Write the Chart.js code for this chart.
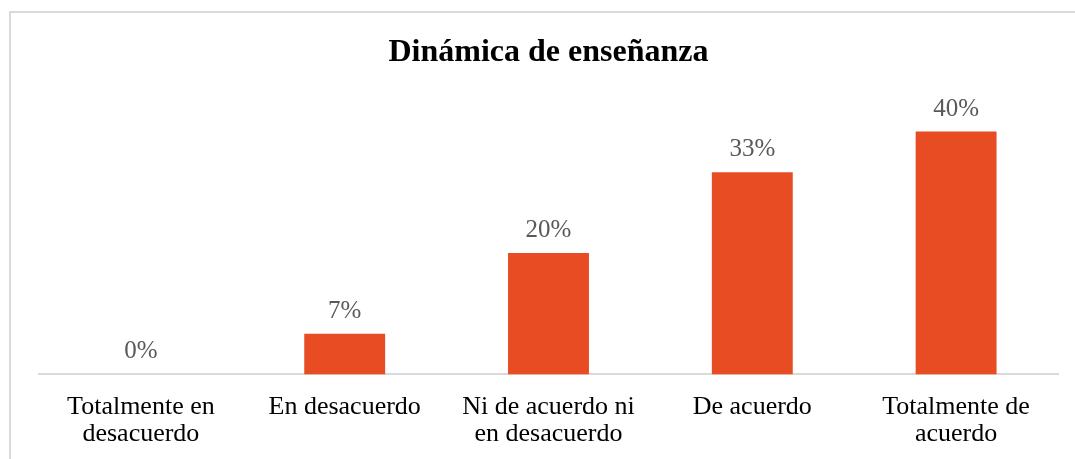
<!DOCTYPE html>
<html>
<head>
<meta charset="utf-8">
<script src="https://cdn.jsdelivr.net/npm/chart.js@4"></script>
<style>
    html, body { margin: 0; padding: 0; background: #fff; overflow: hidden; }
    #marco { position: absolute; left: 9px; top: 11px; width: 1100px; height: 500px; border: 2px solid #d9d9d9; }
    #caja { position: absolute; left: 0; top: 0; width: 1075px; height: 478px; }
</style>
</head>
<body>
<div id="marco"></div>
<div id="caja"><canvas id="dinamica"></canvas></div>
<script>
const categorias = [
    ['Totalmente en', 'desacuerdo'],
    'En desacuerdo',
    ['Ni de acuerdo ni', 'en desacuerdo'],
    'De acuerdo',
    ['Totalmente de', 'acuerdo']
];
const porcentajes = [0, 0.067, 0.2, 0.333, 0.4];

// etiquetas encima de cada barra
const etiquetasBarras = {
    id: 'etiquetasBarras',
    afterDatasetsDraw(chart) {
        const ctx = chart.ctx;
        const meta = chart.getDatasetMeta(0);
        ctx.save();
        ctx.font = '25px "Liberation Serif"';
        ctx.fillStyle = '#595959';
        ctx.textAlign = 'center';
        ctx.textBaseline = 'alphabetic';
        meta.data.forEach((barra, i) => {
            const texto = Math.round(porcentajes[i] * 100) + '%';
            ctx.fillText(texto, barra.x, barra.y - 16);
        });
        ctx.restore();
    }
};

const data = {
    labels: categorias,
    datasets: [{
        label: 'Dinámica de enseñanza',
        backgroundColor: 'rgb(232, 76, 34)',
        borderColor: 'rgb(232, 76, 34)',
        data: porcentajes,
        barPercentage: 0.397,
        categoryPercentage: 1
    }]
};

const config = {
    type: 'bar',
    data: data,
    options: {
        responsive: true,
        maintainAspectRatio: false,
        animation: false,
        layout: {
            padding: { left: 39, right: 17, top: 0, bottom: 11 }
        },
        plugins: {
            legend: { display: false },
            tooltip: { enabled: false },
            title: {
                display: true,
                text: 'Dinámica de enseñanza',
                color: '#000',
                font: { family: 'Liberation Serif', size: 32, weight: 'bold', lineHeight: 1.12 },
                padding: { top: 35, bottom: 0 }
            }
        },
        scales: {
            x: {
                grid: { display: false, drawTicks: false },
                border: { display: true, color: '#d9d9d9', width: 2 },
                ticks: {
                    color: '#000',
                    font: { family: 'Liberation Serif', size: 26, lineHeight: 1.05 },
                    padding: 19,
                    maxRotation: 0,
                    autoSkip: false
                }
            },
            y: {
                display: false,
                min: 0,
                max: 0.5
            }
        }
    },
    plugins: [etiquetasBarras]
};

const grafDinamica = document.getElementById('dinamica').getContext('2d');
var grafico = new Chart(grafDinamica, config);
</script>
</body>
</html>
